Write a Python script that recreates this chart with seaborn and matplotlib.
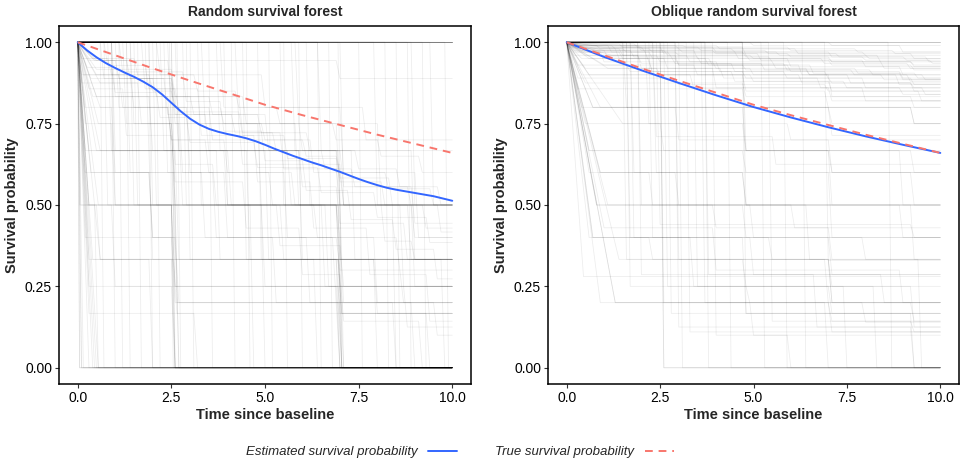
import numpy as np
import pandas as pd
import matplotlib
matplotlib.use("Agg")
import matplotlib.pyplot as plt
import seaborn as sns
from matplotlib.lines import Line2D

# ---------------- data ----------------
panel_titles = ["Random survival forest", "Oblique random survival forest"]
x_label = "Time since baseline"
y_label = "Survival probability"
x_ticks = [0.0, 2.5, 5.0, 7.5, 10.0]
x_tick_labels = ["0.0", "2.5", "5.0", "7.5", "10.0"]
y_ticks = [0.0, 0.25, 0.5, 0.75, 1.0]
y_tick_labels = ["0.00", "0.25", "0.50", "0.75", "1.00"]
legend_labels = ["Estimated survival probability", "True survival probability"]

# per-tree survival curves: list of (event time, new survival level)
rsf_curves = [
    [], [], [], [], [], [], [], [], [], [],
    [(0.1, 0.0)],
    [(0.3, 0.5), (2.6, 0.0)],
    [(0.5, 0.667), (2.0, 0.333), (7.05, 0.0)],
    [(0.05, 0.0)],
    [(1.0, 0.5), (2.7, 0.0)],
    [(2.0, 0.0)],
    [(2.6, 0.5), (7.1, 0.0)],
    [(0.6, 0.944), (2.5, 0.833), (4.4, 0.722), (5.5, 0.611), (7.0, 0.5), (8.2, 0.389), (9.0, 0.333)],
    [(0.2, 0.75), (2.6, 0.5), (5.0, 0.25), (7.1, 0.0)],
    [(0.4, 0.333)],
    [(1.1, 0.8), (2.8, 0.6), (4.0, 0.4), (6.2, 0.2), (8.5, 0.0)],
    [(0.15, 0.9), (1.5, 0.8), (2.5, 0.7), (3.5, 0.6), (5.2, 0.5), (6.4, 0.4), (7.0, 0.3), (8.7, 0.2), (9.6, 0.1)],
    [(2.7, 0.667), (7.0, 0.333)],
    [(0.5, 0.0)],
    [(3.3, 0.5), (7.05, 0.0)],
    [(0.3, 0.857), (1.3, 0.714), (2.6, 0.571), (4.5, 0.429), (6.0, 0.286), (7.1, 0.143), (9.2, 0.0)],
    [(5.5, 0.5)],
    [(0.25, 0.923), (1.0, 0.846), (2.2, 0.769), (3.0, 0.692), (4.8, 0.615), (6.5, 0.538), (8.0, 0.462), (9.4, 0.385)],
    [(2.55, 0.0)],
    [(1.0, 0.0)],
    [(0.35, 0.6), (2.65, 0.2)],
    [(8.0, 0.5)],
    [(0.45, 0.0)],
    [(4.3, 0.75), (7.0, 0.5), (9.0, 0.25)],
    [(0.08, 0.5), (0.55, 0.0)],
    [(0.6, 0.875), (1.7, 0.75), (2.6, 0.625), (3.7, 0.5), (5.4, 0.375), (7.1, 0.25), (8.8, 0.125)],
    [(2.1, 0.5), (2.7, 0.0)],
    [(0.2, 0.667), (6.0, 0.333)],
    [(7.05, 0.0)],
    [(0.5, 0.9), (1.2, 0.8), (2.5, 0.7), (4.0, 0.6), (5.8, 0.5), (7.0, 0.4), (8.6, 0.3)],
    [(1.5, 0.75), (4.9, 0.5)],
    [(0.3, 0.0)],
    [(2.6, 0.0)],
    [(0.1, 0.95), (0.9, 0.9), (2.0, 0.85), (2.6, 0.8), (3.9, 0.75), (5.0, 0.7), (6.1, 0.65), (7.0, 0.6), (8.3, 0.55), (9.5, 0.5)],
    [(3.0, 0.333), (7.0, 0.0)],
    [(0.55, 0.5)],
    [(6.8, 0.0)],
    [(1.9, 0.667), (4.6, 0.333), (9.8, 0.0)],
    [(0.3, 0.5), (1.0, 0.25), (2.6, 0.0)],
    [(5.9, 0.75), (8.1, 0.5)],
    [(0.1, 0.0)],
    [(2.4, 0.6), (3.4, 0.4), (7.1, 0.2)],
    [(0.6, 0.333), (2.0, 0.0)],
    [(9.0, 0.5)],
    [(0.5, 0.944), (1.4, 0.889), (2.6, 0.833), (3.1, 0.778), (4.2, 0.722), (5.3, 0.667), (6.6, 0.611), (7.4, 0.556), (8.9, 0.5)],
    [(1.2, 0.0)],
    [(4.0, 0.5), (7.0, 0.25)],
    [(0.05, 0.0)],
    [(0.55, 0.0)],
    [(0.3, 0.944), (7.0, 0.889)],
    [(0.3, 0.667), (2.6, 0.333), (7.05, 0.167)],
    [(1.0, 0.667), (2.7, 0.333)],
    [(0.1, 0.875), (2.6, 0.75), (4.4, 0.625), (7.1, 0.5)],
    [(0.4, 0.833), (2.5, 0.667), (5.7, 0.5), (8.9, 0.333)],
    [(2.0, 0.5), (2.6, 0.25), (7.0, 0.0)],
    [(0.25, 0.5), (0.6, 0.333), (2.65, 0.167)],
    [(2.75, 0.0)],
    [(0.15, 0.0)],
    [(3.9, 0.8), (7.1, 0.6), (9.1, 0.4)],
    [(0.5, 0.917), (2.6, 0.833), (4.5, 0.75), (6.0, 0.667), (7.0, 0.583), (8.4, 0.5), (9.7, 0.417)],
    [(1.3, 0.75), (2.6, 0.5), (6.7, 0.25)],
    [(0.3, 0.333), (2.6, 0.0)],
    [(4.6, 0.0)],
    [(0.2, 0.8), (1.0, 0.6), (2.0, 0.4), (2.7, 0.2), (7.0, 0.0)],
    [(5.8, 0.667), (7.05, 0.333)],
    [(0.6, 0.667)],
    [(1.6, 0.5), (8.5, 0.0)],
    [(0.1, 0.9), (2.6, 0.8), (3.6, 0.7), (6.3, 0.6), (7.1, 0.5), (9.0, 0.4)],
    [(2.5, 0.75), (2.8, 0.5), (7.0, 0.25)],
    [(6.2, 0.5)],
    [(0.4, 0.0)],
    [(1.0, 0.833), (2.0, 0.667), (4.1, 0.5), (7.0, 0.333), (8.0, 0.167)],
    [(0.05, 0.5), (2.6, 0.0)],
    [(3.6, 0.0)],
    [(0.8, 0.929), (1.9, 0.857), (2.7, 0.786), (4.4, 0.714), (5.6, 0.643), (7.0, 0.571), (8.2, 0.5), (9.3, 0.429)],
    [(8.9, 0.0)],
    [(0.3, 0.25), (7.05, 0.0)],
    [(2.2, 0.9), (5.0, 0.8), (7.7, 0.7)],
    [(9.5, 0.5)],
    [(0.55, 0.75), (1.0, 0.5), (2.6, 0.25)],
    [(0.35, 0.889), (2.6, 0.778), (5.1, 0.667), (7.1, 0.556), (9.0, 0.444)],
    [(1.4, 0.0)],
    [(7.1, 0.5)],
    [(4.9, 0.333), (7.0, 0.167)],
    [(0.2, 0.6), (2.0, 0.4), (5.3, 0.2)],
    [(0.7, 0.0)], [(1.7, 0.0)], [(3.1, 0.0)], [(4.2, 0.0)], [(5.2, 0.0)],
    [(6.0, 0.0)], [(7.6, 0.0)], [(8.3, 0.0)], [(9.3, 0.0)], [(9.9, 0.0)],
    [(0.9, 0.667), (3.8, 0.333), (6.4, 0.0)],
    [(1.5, 0.5), (4.7, 0.0)],
    [(2.3, 0.667), (5.1, 0.333), (8.0, 0.0)],
    [(3.4, 0.75), (5.9, 0.5), (8.7, 0.25)],
    [(0.6, 0.8), (3.0, 0.6), (5.6, 0.4), (8.0, 0.2)],
    [(1.8, 0.857), (3.3, 0.714), (4.8, 0.571), (6.3, 0.429), (7.8, 0.286), (9.4, 0.143)],
    [(0.4, 0.95), (1.6, 0.9), (3.2, 0.85), (4.3, 0.8), (5.4, 0.75), (6.9, 0.7), (8.1, 0.65), (9.2, 0.6)],
    [(1.2, 0.909), (2.9, 0.818), (3.9, 0.727), (5.0, 0.636), (6.1, 0.545), (7.3, 0.455), (8.5, 0.364), (9.6, 0.273)],
    [(0.8, 0.5), (5.0, 0.0)],
    [(4.5, 0.333)],
    [(6.5, 0.667), (9.0, 0.333)],
    [(0.3, 0.167), (3.2, 0.0)],
    [(2.9, 0.5), (6.6, 0.25)],
    [(0.45, 0.944), (1.1, 0.889), (2.1, 0.833), (3.6, 0.778), (4.9, 0.722), (6.2, 0.667), (7.5, 0.611), (8.6, 0.556), (9.7, 0.5)],
    [(5.6, 0.0)],
    [(0.2, 0.4), (2.6, 0.2), (7.05, 0.0)],
    [(1.4, 0.6), (3.7, 0.4), (6.9, 0.2), (9.0, 0.0)],
    [(8.6, 0.0)],
    [(3.8, 0.667), (7.4, 0.333)],
    [(0.7, 0.889), (2.4, 0.778), (3.5, 0.667), (6.0, 0.556), (7.0, 0.444), (8.8, 0.333)],
    [(2.2, 0.0)],
    [(6.5, 0.0)],
    [(0.5, 0.833), (2.7, 0.667), (4.0, 0.5), (5.5, 0.333), (7.05, 0.167), (9.4, 0.0)],
]

orsf_curves = [
    [(0.5, 0.98), (1.6, 0.97), (3.0, 0.96), (5.0, 0.95), (7.1, 0.94), (9.3, 0.93)],
    [(0.3, 0.99), (2.0, 0.98), (4.5, 0.97), (8.0, 0.96)],
    [(1.0, 0.975), (3.5, 0.95), (6.0, 0.925), (9.0, 0.9)],
    [(0.2, 0.98), (1.5, 0.96), (2.5, 0.94), (4.0, 0.92), (6.5, 0.9), (9.2, 0.88)],
    [(0.7, 0.8)],
    [(0.4, 0.95), (2.3, 0.9), (4.8, 0.85), (7.0, 0.8), (9.3, 0.75)],
    [(0.6, 0.667), (7.1, 0.5)],
    [(1.8, 0.6), (4.8, 0.5), (9.0, 0.4)],
    [(0.7, 0.4)],
    [(0.45, 0.28)],
    [(1.3, 0.2), (5.0, 0.1)],
    [(2.6, 0.0)],
    [(0.8, 0.5)],
    [(1.7, 0.4), (4.8, 0.167)],
    [(1.6, 0.333), (7.1, 0.2)],
    [(0.1, 0.99), (1.2, 0.97), (2.8, 0.955), (5.5, 0.94), (8.5, 0.92)],
    [(0.9, 0.96), (3.0, 0.93), (6.0, 0.91), (9.0, 0.89)],
    [(0.3, 0.89), (3.0, 0.87), (7.0, 0.85)],
    [(2.2, 0.75), (6.0, 0.7)],
    [(0.5, 0.92), (4.0, 0.86), (8.0, 0.82)],
    [(2.0, 0.5), (6.5, 0.333), (9.5, 0.0)],
    [(3.5, 0.25), (7.5, 0.0)],
    [(2.3, 0.4), (5.5, 0.333), (7.0, 0.2)],
    [(2.7, 0.25), (4.9, 0.2), (8.0, 0.14)],
    [(3.0, 0.125), (9.3, 0.0)],
    [(1.0, 0.43), (4.0, 0.3), (9.0, 0.2)],
    [(0.2, 0.97), (1.0, 0.94), (2.3, 0.91), (4.5, 0.88), (7.1, 0.85), (9.5, 0.82)],
    [(4.8, 0.667), (7.1, 0.6)],
    [(0.6, 0.6), (3.0, 0.5), (5.0, 0.4), (8.0, 0.333)],
    [], [], [], [],
    [(5.0, 0.99), (9.0, 0.97)],
    [(0.8, 0.99), (3.2, 0.985), (6.0, 0.975), (8.8, 0.965)],
    [(1.1, 0.92), (2.5, 0.9), (5.0, 0.88), (7.5, 0.86), (9.6, 0.84)],
    [(4.0, 0.1), (6.0, 0.0)],
    [(3.8, 0.0)],
    [(0.9, 0.2), (7.0, 0.0)],
    [(0.4, 0.8), (4.8, 0.667), (9.0, 0.5)],
    [(2.4, 0.71), (5.6, 0.625)],
    [(0.3, 0.98), (1.4, 0.95), (3.8, 0.93), (6.3, 0.9), (8.9, 0.87)],
    [(1.6, 0.8), (9.3, 0.75)],
    [(0.6, 0.97), (2.2, 0.94), (4.1, 0.91), (5.9, 0.89), (8.0, 0.86)],
    [(5.3, 0.0)],
    [(7.0, 0.33)],
    [(2.5, 0.44), (9.3, 0.4)],
    [(0.5, 0.985), (2.0, 0.975), (4.0, 0.965), (6.0, 0.955), (8.0, 0.945), (9.8, 0.935)],
    [(1.2, 0.96), (3.3, 0.94), (5.6, 0.92), (7.8, 0.905), (9.4, 0.89)],
    [(0.2, 0.99), (0.9, 0.98), (2.3, 0.97), (4.8, 0.955), (7.1, 0.94), (9.3, 0.925)],
    [(0.4, 0.975), (1.8, 0.955), (3.6, 0.935), (5.9, 0.915), (8.2, 0.9)],
    [(0.7, 0.99), (3.0, 0.98), (6.2, 0.965), (9.3, 0.95)],
    [(0.1, 0.995), (1.5, 0.985), (4.0, 0.97), (7.1, 0.955), (9.7, 0.94)],
    [(0.6, 0.95), (2.7, 0.92), (5.0, 0.9), (7.6, 0.875), (9.3, 0.86)],
    [(0.3, 0.93), (1.7, 0.91), (4.8, 0.89), (7.1, 0.875)],
    [(0.5, 0.875), (4.8, 0.833), (9.3, 0.8)],
    [(0.7, 0.8), (7.1, 0.75)],
    [(0.9, 0.6), (4.8, 0.5)],
    [(0.6, 0.4), (2.3, 0.333), (7.1, 0.25)],
    [(0.6, 0.667), (4.8, 0.6), (9.3, 0.5)],
    [(1.3, 0.2)],
    [(2.6, 0.2), (7.1, 0.143)],
    [(4.8, 0.167), (9.3, 0.0)],
    [(1.8, 0.4), (5.0, 0.286)],
    [(2.6, 0.0)],
    [(3.3, 0.11)],
    [(0.8, 0.5), (4.0, 0.43), (7.1, 0.333)],
    [(0.3, 0.97), (2.3, 0.95), (3.9, 0.93), (6.6, 0.905), (9.0, 0.885)],
    [(1.0, 0.985), (4.8, 0.96), (8.4, 0.94)],
    [(0.5, 0.96), (2.0, 0.935), (4.5, 0.91), (7.0, 0.89), (9.3, 0.87)],
    [(5.9, 0.0)],
    [(2.0, 0.286), (6.7, 0.125)],
    [(1.5, 0.75), (4.8, 0.667)],
    [(3.0, 0.333), (7.1, 0.2), (9.3, 0.143)],
    [(0.4, 0.9), (7.1, 0.833)],
    [(7.1, 0.99)],
    [(0.2, 0.985), (2.6, 0.965), (5.2, 0.945), (8.0, 0.925)],
    [(1.7, 0.25), (8.3, 0.0)],
    [(0.3, 0.995), (1.9, 0.985), (3.6, 0.975), (5.4, 0.965), (7.3, 0.955), (9.1, 0.945)],
    [(0.5, 0.97), (1.5, 0.95), (3.0, 0.93), (4.8, 0.915), (6.5, 0.9), (8.5, 0.885)],
    [(0.2, 0.96), (2.0, 0.92), (4.2, 0.89), (6.8, 0.86), (9.0, 0.84)],
    [(0.8, 0.975), (2.7, 0.96), (4.9, 0.945), (7.1, 0.93), (9.3, 0.915)],
    [(0.4, 0.99), (1.3, 0.98), (3.1, 0.97), (5.7, 0.96), (8.1, 0.95)],
    [(1.0, 0.93), (3.5, 0.9), (6.3, 0.875), (9.3, 0.85)],
    [(0.6, 0.9), (3.4, 0.86), (7.1, 0.82)],
    [(0.3, 0.857), (4.8, 0.8), (7.1, 0.714)],
    [(0.9, 0.8), (3.0, 0.7), (7.1, 0.6)],
    [(0.5, 0.75), (2.6, 0.667), (9.3, 0.6)],
    [(1.1, 0.5), (4.8, 0.4), (7.1, 0.286)],
    [(0.7, 0.4), (3.4, 0.25), (9.3, 0.125)],
    [(2.8, 0.167)],
    [(3.7, 0.2), (7.1, 0.11)],
    [(4.4, 0.0)],
    [(6.4, 0.0)],
    [(8.7, 0.0)],
    [(3.1, 0.0)],
    [(1.4, 0.333), (4.8, 0.25), (7.1, 0.167)],
    [(0.9, 0.6), (2.3, 0.5), (6.1, 0.43)],
    [(0.2, 0.975), (1.1, 0.955), (2.9, 0.935), (5.3, 0.915), (7.7, 0.9), (9.6, 0.885)],
    [(0.1, 0.985), (2.1, 0.97), (4.6, 0.95), (6.9, 0.935), (9.2, 0.92)],
    [(1.5, 0.99), (4.1, 0.98), (7.8, 0.97)],
    [(4.8, 0.5), (9.3, 0.333)],
    [(2.4, 0.6), (7.1, 0.4)],
    [(3.8, 0.286), (8.5, 0.2)],
    [(5.5, 0.143), (9.3, 0.11)],
]

# mean (estimated) curves and true curve
rsf_est_time = [0.0, 0.25, 0.5, 0.75, 1.0, 1.25, 1.5, 1.75, 2.0, 2.25, 2.5, 2.75, 3.0, 3.25,
                3.5, 3.75, 4.0, 4.25, 4.5, 4.75, 5.0, 5.25, 5.5, 5.75, 6.0, 6.25, 6.5, 6.75,
                7.0, 7.25, 7.5, 7.75, 8.0, 8.25, 8.5, 8.75, 9.0, 9.25, 9.5, 9.75, 10.0]
rsf_est_surv = [1.0, 0.975, 0.954, 0.936, 0.921, 0.907, 0.894, 0.879, 0.862, 0.84, 0.814,
                0.788, 0.765, 0.747, 0.734, 0.725, 0.718, 0.712, 0.705, 0.696, 0.685,
                0.673, 0.662, 0.651, 0.641, 0.631, 0.622, 0.612, 0.602, 0.591, 0.58,
                0.57, 0.561, 0.553, 0.547, 0.542, 0.537, 0.532, 0.527, 0.52, 0.513]
orsf_est_time = [0.0, 1.0, 2.0, 3.0, 4.0, 5.0, 6.0, 7.0, 8.0, 9.0, 10.0]
orsf_est_surv = [1.0, 0.955, 0.914, 0.875, 0.837, 0.801, 0.769, 0.739, 0.711, 0.685, 0.66]
true_time = [0.0, 1.0, 2.0, 3.0, 4.0, 5.0, 6.0, 7.0, 8.0, 9.0, 10.0]
true_surv = [1.0, 0.96, 0.92, 0.882, 0.845, 0.808, 0.776, 0.746, 0.716, 0.688, 0.66]

# ---------------- style ----------------
sns.set_theme(style="ticks")
plt.rcParams["font.family"] = ["Liberation Sans", "DejaVu Sans"]
BLUE = "#3366FF"
RED = "#F8766D"
T_END = 10.0
DROP = 0.1


def curves_to_frame(curves, diag_limit):
    rows = []
    for cid, events in enumerate(curves):
        xs, ys = [0.0], [1.0]
        prev_t, prev_s = 0.0, 1.0
        for k, (t, s) in enumerate(events):
            if k == 0 and t <= diag_limit:
                start = 0.0
            else:
                start = max(prev_t, t - DROP)
            if start > prev_t:
                xs.append(start); ys.append(prev_s)
            xs.append(t); ys.append(s)
            prev_t, prev_s = t, s
        xs.append(T_END); ys.append(prev_s)
        for order, (x, y) in enumerate(zip(xs, ys)):
            rows.append((cid, order, x, y))
    return pd.DataFrame(rows, columns=["curve", "order", "time", "surv"])


fig = plt.figure(figsize=(9.61, 4.63), dpi=100)
W, H = 961.0, 463.0
axes = [fig.add_axes([59 / W, 1 - 384 / H, 412 / W, 358 / H]),
        fig.add_axes([548 / W, 1 - 384 / H, 411 / W, 358 / H])]

panels = [(rsf_curves, rsf_est_time, rsf_est_surv, 0.6),
          (orsf_curves, orsf_est_time, orsf_est_surv, 1.5)]

for ax, title, (curves, et, es, dl) in zip(axes, panel_titles, panels):
    df = curves_to_frame(curves, dl)
    sns.lineplot(data=df, x="time", y="surv", units="curve", estimator=None,
                 sort=False, color="black", alpha=0.07, linewidth=0.6, ax=ax)
    sns.lineplot(x=et, y=es, color=BLUE, linewidth=1.4, ax=ax)
    sns.lineplot(x=true_time, y=true_surv, color=RED, linewidth=1.4, ax=ax,
                 linestyle=(0, (4, 3)))
    ax.set_xlim(-0.5, 10.5)
    ax.set_ylim(-0.05, 1.05)
    ax.set_xticks(x_ticks)
    ax.set_xticklabels(x_tick_labels)
    ax.set_yticks(y_ticks)
    ax.set_yticklabels(y_tick_labels)
    ax.set_xlabel(x_label, fontsize=10.5, fontweight="bold", labelpad=2)
    ax.set_ylabel(y_label, fontsize=10.5, fontweight="bold", labelpad=4)
    ax.set_title(title, fontsize=10, fontweight="bold", pad=7)
    ax.tick_params(axis="both", labelsize=10, length=3, width=0.8,
                   color="#333333", labelcolor="black", pad=2)
    for sp in ax.spines.values():
        sp.set_visible(True)
        sp.set_color("black")
        sp.set_linewidth(1.1)

handles = [Line2D([], [], color=BLUE, linewidth=1.4),
           Line2D([], [], color=RED, linewidth=1.4, linestyle=(0, (4, 3)))]
fig.legend(handles, legend_labels, loc="center", bbox_to_anchor=(460 / W, 1 - 452 / H),
           ncol=2, frameon=False, markerfirst=False, handlelength=2.2,
           handletextpad=0.8, columnspacing=2.9,
           prop={"style": "italic", "size": 9.5})

fig.savefig("out.png", dpi=100)
